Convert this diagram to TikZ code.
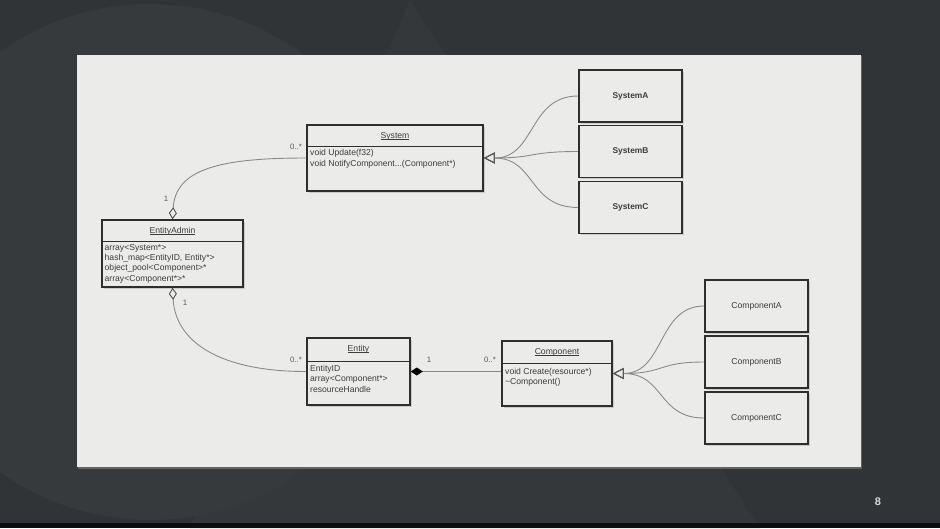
\documentclass[tikz,border=0pt]{standalone}
\usepackage{fontspec}
\setmainfont{Liberation Sans}
\usetikzlibrary{arrows.meta,shadows,calc}
\definecolor{bgdark}{HTML}{2D3032}
\definecolor{bgmid}{HTML}{333638}
\definecolor{panel}{HTML}{EBECEA}
\definecolor{boxline}{HTML}{2E2E2E}
\definecolor{conn}{HTML}{8A8A8A}
\definecolor{txt}{HTML}{3C3C3C}
\newcommand\ulword[1]{\leavevmode\sbox0{#1}\rlap{\rule[-1.3pt]{\wd0}{0.55pt}}\usebox0}
\begin{document}
\begin{tikzpicture}[x=1pt,y=-1pt,
  cls/.style={draw=boxline, line width=1.6pt, fill=panel, inner sep=0pt,
    drop shadow={shadow xshift=1.6pt, shadow yshift=-1.8pt, opacity=0.3}},
  divider/.style={draw=boxline, line width=1.2pt},
  ctitle/.style={font=\fontsize{8.6}{10}\selectfont, text=txt, inner sep=0pt},
  attr/.style={font=\fontsize{8.6}{10.3}\selectfont, text=txt, align=left, anchor=north west, inner sep=0pt},
  mult/.style={font=\fontsize{7.8}{9}\selectfont, text=txt!85, inner sep=0pt},
  subbox/.style={cls, minimum width=103pt, minimum height=52pt, text=txt,
    font=\fontsize{8.6}{10}\selectfont},
  conn/.style={draw=conn, line width=0.9pt},
  agg/.style={{Diamond[open,length=12pt,width=8pt,line width=0.9pt,color=txt!90]}-},
  comp/.style={{Diamond[color=black,length=12pt,width=8pt]}-},
  gen/.style={-{Triangle[open,length=11pt,width=11pt,line width=0.9pt,color=txt!85]}}
]
% background
\useasboundingbox (0,0) rectangle (940,528);
\fill[bgdark] (0,0) rectangle (940,528);
\fill[bgmid] (150,262) circle (258pt);
\fill[bgmid, opacity=0.8] (410,0) -- (190,528) -- (760,528) -- cycle;
\fill[white, opacity=0.025] (0,0) rectangle (940,528);
\fill[black!70!bgdark] (0,523) rectangle (940,528);
\fill[black!35!panel, opacity=0.45] (78,56) rectangle (862,469);
\fill[panel] (77,55) rectangle (861,467);
\node[text=white!85!black, font=\bfseries\fontsize{11}{13}\selectfont, inner sep=0pt] (pagenum) at (878,502) {8};

% class boxes
\node[cls, minimum width=176pt, minimum height=66pt] (system) at (395,158) {};
\draw[divider] ($(system.north west)+(0,22)$) -- ($(system.north east)+(0,22)$);
\node[ctitle] (systemT) at (395,136) {\ulword{System}};
\node[attr] (systemL) at (310,149.5) {void Update(f32)\\void NotifyComponent...(Component*)};

\node[cls, minimum width=141pt, minimum height=67pt] (ea) at (172.5,253.5) {};
\draw[divider] ($(ea.north west)+(0,22)$) -- ($(ea.north east)+(0,22)$);
\node[ctitle] (eaT) at (172.5,231) {\ulword{EntityAdmin}};
\node[attr] (eaL) at (104.5,244) {array<System*>\\hash\_map<EntityID, Entity*>\\object\_pool<Component>*\\array<Component*>*};

\node[cls, minimum width=103pt, minimum height=67pt] (entity) at (358.5,371.5) {};
\draw[divider] ($(entity.north west)+(0,24)$) -- ($(entity.north east)+(0,24)$);
\node[ctitle] (entityT) at (358.5,349) {\ulword{Entity}};
\node[attr] (entityL) at (310,365) {EntityID\\array<Component*>\\resourceHandle};

\node[cls, minimum width=110pt, minimum height=65pt] (component) at (557,373.5) {};
\draw[divider] ($(component.north west)+(0,23)$) -- ($(component.north east)+(0,23)$);
\node[ctitle] (componentT) at (557,352) {\ulword{Component}};
\node[attr] (componentL) at (505,368) {void Create(resource*)\\\textasciitilde Component()};

% subclasses
\node[subbox, font=\bfseries\fontsize{8.4}{10}\selectfont] (sA) at (630.5,96) {SystemA};
\node[subbox, font=\bfseries\fontsize{8.4}{10}\selectfont] (sB) at (630.5,151.5) {SystemB};
\node[subbox, font=\bfseries\fontsize{8.4}{10}\selectfont] (sC) at (630.5,207.5) {SystemC};
\node[subbox] (cA) at (756.5,306) {ComponentA};
\node[subbox] (cB) at (756.5,362) {ComponentB};
\node[subbox] (cC) at (756.5,418) {ComponentC};

% connectors
\draw[conn, agg] (ea.north) .. controls +(3,-50) and +(-87,0) .. (system.west);
\draw[conn, agg] (ea.south) .. controls +(3,55) and +(-85,0) .. (entity.west);
\draw[conn, comp] (entity.east) -- (entity.east -| component.west);

\draw[conn, gen] (sA.west) .. controls +(-50,0) and +(52,0) .. (system.east);
\draw[conn, gen] (sB.west) .. controls +(-50,0) and +(52,0) .. (system.east);
\draw[conn, gen] (sC.west) .. controls +(-50,0) and +(52,0) .. (system.east);
\draw[conn, gen] (cA.west) .. controls +(-47,0) and +(52,0) .. (component.east);
\draw[conn, gen] (cB.west) .. controls +(-47,0) and +(52,0) .. (component.east);
\draw[conn, gen] (cC.west) .. controls +(-47,0) and +(52,0) .. (component.east);

% multiplicities
\node[mult] (m1) at (296,147) {0..*};
\node[mult] (m2) at (166,199) {1};
\node[mult] (m3) at (185,303) {1};
\node[mult] (m4) at (296,360) {0..*};
\node[mult] (m5) at (429,360) {1};
\node[mult] (m6) at (490,360) {0..*};
\end{tikzpicture}
\end{document}
